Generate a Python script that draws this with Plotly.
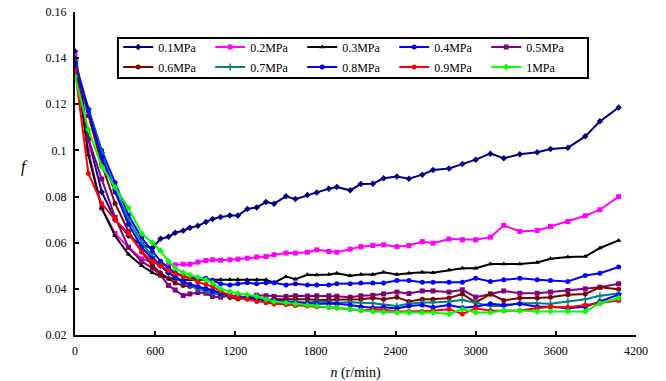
import plotly.graph_objects as go

# Rotational speed grid (r/min)
n_rpm = [0, 100, 200, 300, 400, 500, 580, 640, 700, 750, 810, 860, 920, 980, 1030, 1090,
         1160, 1220, 1290, 1360, 1430, 1490, 1580, 1650, 1740, 1810, 1900, 1960, 2060, 2140,
         2230, 2310, 2410, 2500, 2600, 2680, 2800, 2900, 3000, 3110, 3210, 3330, 3460, 3560,
         3690, 3820, 3930, 4070]

f_01 = [0.143, 0.105, 0.082, 0.070, 0.063, 0.059, 0.0578, 0.0617, 0.0626, 0.0643, 0.0652, 0.0665,
        0.0673, 0.069, 0.0703, 0.0711, 0.0718, 0.0718, 0.0746, 0.0753, 0.0776, 0.0769, 0.0801, 0.0789,
        0.0807, 0.0818, 0.0834, 0.0841, 0.0827, 0.0854, 0.0856, 0.0879, 0.0887, 0.0877, 0.0895, 0.0915,
        0.0922, 0.0941, 0.096, 0.0986, 0.0966, 0.0983, 0.0992, 0.1006, 0.1012, 0.1061, 0.1126, 0.1186]

f_02 = [0.141, 0.100, 0.075, 0.064, 0.058, 0.053, 0.0515, 0.0505, 0.0503, 0.0504, 0.0507, 0.0507,
        0.0516, 0.0523, 0.0526, 0.0524, 0.0526, 0.0529, 0.0533, 0.0538, 0.054, 0.0548, 0.0555, 0.0555,
        0.0559, 0.0569, 0.0562, 0.0559, 0.0572, 0.0583, 0.0588, 0.0591, 0.0583, 0.0588, 0.0605, 0.0598,
        0.0616, 0.0613, 0.0613, 0.0624, 0.0675, 0.0649, 0.0653, 0.067, 0.0692, 0.0717, 0.0743, 0.080]

f_03 = [0.140, 0.098, 0.075, 0.063, 0.055, 0.050, 0.047, 0.0455, 0.0448, 0.0442, 0.044, 0.044,
        0.0442, 0.0442, 0.044, 0.044, 0.044, 0.0439, 0.0439, 0.044, 0.044, 0.0427, 0.0453, 0.0442,
        0.0461, 0.046, 0.0462, 0.0468, 0.0457, 0.0462, 0.0462, 0.0472, 0.0462, 0.0468, 0.0472, 0.047,
        0.0482, 0.0489, 0.0489, 0.0508, 0.0508, 0.0508, 0.0514, 0.053, 0.0538, 0.054, 0.0577, 0.061]

f_04 = [0.138, 0.118, 0.100, 0.086, 0.072, 0.062, 0.056, 0.052, 0.049, 0.047, 0.0455, 0.0448,
        0.0445, 0.0446, 0.0436, 0.0422, 0.0417, 0.0422, 0.0426, 0.0422, 0.0427, 0.0426, 0.0417, 0.0422,
        0.0417, 0.0417, 0.0417, 0.0422, 0.0422, 0.0425, 0.0425, 0.0425, 0.0436, 0.0436, 0.0429, 0.0429,
        0.0429, 0.0429, 0.0446, 0.0432, 0.0439, 0.0446, 0.044, 0.0436, 0.0432, 0.0458, 0.0468, 0.0495]

f_05 = [0.136, 0.105, 0.0876, 0.071, 0.058, 0.0518, 0.049, 0.046, 0.0415, 0.0395, 0.0371, 0.0378,
        0.0384, 0.0381, 0.0367, 0.0364, 0.0371, 0.0368, 0.0364, 0.0372, 0.037, 0.0367, 0.0367, 0.037,
        0.0369, 0.037, 0.037, 0.0368, 0.0364, 0.037, 0.0372, 0.0378, 0.0386, 0.038, 0.0391, 0.0391,
        0.0386, 0.0396, 0.0364, 0.0378, 0.0391, 0.0381, 0.0381, 0.0386, 0.0393, 0.040, 0.0407, 0.0422]

f_06 = [0.137, 0.115, 0.094, 0.077, 0.065, 0.056, 0.050, 0.047, 0.0445, 0.0425, 0.0415, 0.041,
        0.0405, 0.040, 0.0395, 0.038, 0.0362, 0.0356, 0.036, 0.036, 0.0352, 0.0355, 0.0355, 0.0358,
        0.0355, 0.0352, 0.0352, 0.0355, 0.0355, 0.0355, 0.036, 0.0355, 0.0364, 0.0345, 0.0355, 0.0355,
        0.036, 0.0378, 0.0341, 0.0378, 0.035, 0.036, 0.036, 0.0364, 0.0374, 0.0378, 0.0407, 0.0398]

f_07 = [0.139, 0.118, 0.099, 0.083, 0.070, 0.060, 0.054, 0.050, 0.047, 0.045, 0.043, 0.0415,
        0.040, 0.039, 0.038, 0.0375, 0.037, 0.0365, 0.036, 0.0355, 0.035, 0.0338, 0.0338, 0.0345,
        0.034, 0.0345, 0.0342, 0.034, 0.0342, 0.034, 0.0338, 0.0332, 0.0326, 0.0335, 0.0341, 0.0341,
        0.0345, 0.0352, 0.0341, 0.0326, 0.0326, 0.0338, 0.0338, 0.0335, 0.0345, 0.0355, 0.037, 0.038]

f_08 = [0.138, 0.117, 0.097, 0.082, 0.068, 0.058, 0.053, 0.050, 0.047, 0.045, 0.043, 0.042,
        0.041, 0.040, 0.039, 0.038, 0.037, 0.0365, 0.036, 0.0355, 0.0352, 0.035, 0.0345, 0.034,
        0.0338, 0.0335, 0.0335, 0.0335, 0.033, 0.0322, 0.0318, 0.032, 0.0315, 0.0326, 0.033, 0.032,
        0.033, 0.0318, 0.0322, 0.0335, 0.033, 0.0335, 0.0322, 0.0322, 0.0316, 0.0322, 0.0345, 0.0375]

f_09 = [0.135, 0.090, 0.077, 0.070, 0.064, 0.056, 0.052, 0.050, 0.048, 0.0465, 0.0455, 0.0448,
        0.043, 0.042, 0.041, 0.039, 0.0372, 0.0362, 0.0355, 0.0345, 0.034, 0.0335, 0.0332, 0.0328,
        0.0326, 0.0322, 0.032, 0.0318, 0.0312, 0.0306, 0.031, 0.0309, 0.0302, 0.0302, 0.0302, 0.0305,
        0.0312, 0.0291, 0.0316, 0.0305, 0.0305, 0.0306, 0.0316, 0.0322, 0.032, 0.033, 0.0338, 0.0349]

f_10 = [0.132, 0.109, 0.093, 0.084, 0.075, 0.064, 0.060, 0.0565, 0.052, 0.049, 0.047, 0.046,
        0.045, 0.044, 0.0425, 0.040, 0.0388, 0.038, 0.0375, 0.0367, 0.0355, 0.0345, 0.034, 0.0335,
        0.033, 0.0326, 0.032, 0.0318, 0.0312, 0.0306, 0.0302, 0.030, 0.0297, 0.0297, 0.0297, 0.0297,
        0.0291, 0.0312, 0.0297, 0.0297, 0.0306, 0.0306, 0.0302, 0.0302, 0.0302, 0.0302, 0.0338, 0.036]

series_names = ["0.1MPa", "0.2MPa", "0.3MPa", "0.4MPa", "0.5MPa",
                "0.6MPa", "0.7MPa", "0.8MPa", "0.9MPa", "1MPa"]
series_values = [f_01, f_02, f_03, f_04, f_05, f_06, f_07, f_08, f_09, f_10]
series_colors = ["#000080", "#FF00FF", "#000000", "#0000FF", "#800080",
                 "#800000", "#008080", "#0000FF", "#FF0000", "#00FF00"]
series_symbols = ["diamond", "square", "triangle-up", "circle", "square",
                  "circle", "cross-thin", "circle", "circle", "diamond"]

x_ticks = [0, 600, 1200, 1800, 2400, 3000, 3600, 4200]
y_ticks = [0.02, 0.04, 0.06, 0.08, 0.1, 0.12, 0.14, 0.16]
y_ticktext = ["0.02", "0.04", "0.06", "0.08", "0.1", "0.12", "0.14", "0.16"]

fig = go.Figure()
for i, (name, vals, col, sym) in enumerate(zip(series_names, series_values,
                                               series_colors, series_symbols)):
    fig.add_trace(go.Scatter(
        x=n_rpm, y=vals, name=name, mode="lines+markers",
        legend="legend" if i < 5 else "legend2",
        line=dict(color=col, width=2),
        marker=dict(color=col, symbol=sym, size=5,
                    line=dict(color=col, width=1.5 if sym == "cross-thin" else 0)),
    ))

font_family = "Liberation Serif, Times New Roman, serif"
legend_common = dict(
    orientation="h", x=0.077, xanchor="left", yanchor="middle",
    bgcolor="rgba(0,0,0,0)", borderwidth=0,
    font=dict(family=font_family, size=12, color="black"),
    itemwidth=30, entrywidth=47, entrywidthmode="pixels",
)
fig.update_layout(
    template="none",
    width=666, height=381,
    margin=dict(l=75, r=30, t=12, b=46, autoexpand=False),
    paper_bgcolor="white", plot_bgcolor="white",
    font=dict(family=font_family, size=12, color="black"),
    showlegend=True,
    legend=dict(y=0.8916, **legend_common),
    legend2=dict(y=0.8297, **legend_common),
    shapes=[dict(
        type="rect", xref="paper", yref="paper",
        x0=0.0766, x1=0.9144, y0=0.7957, y1=0.9195,
        fillcolor="white", line=dict(color="black", width=2), layer="above",
    )],
    xaxis=dict(
        range=[0, 4200], tickvals=x_ticks, ticks="inside", ticklen=4,
        tickwidth=1.5, tickcolor="black", automargin=False, ticklabelstandoff=4,
        showline=True, linecolor="black", linewidth=2, showgrid=False, zeroline=False,
        title=dict(text="<i>n</i> (r/min)", font=dict(size=14), standoff=10),
        tickfont=dict(size=12),
    ),
    yaxis=dict(
        range=[0.02, 0.16], tickvals=y_ticks, ticktext=y_ticktext, ticks="inside",
        ticklen=4, tickwidth=1.5, tickcolor="black", automargin=False, ticklabelstandoff=4,
        showline=True, linecolor="black", linewidth=2, showgrid=False, zeroline=False,
        tickfont=dict(size=12),
    ),
    annotations=[dict(
        text="<i>f</i>", x=-0.1, y=0.52, xref="paper", yref="paper",
        showarrow=False, font=dict(family=font_family, size=16, color="black"),
    )],
)

fig.write_html("out.html", config={"displayModeBar": False},
               post_script="document.body.style.margin='0';")
